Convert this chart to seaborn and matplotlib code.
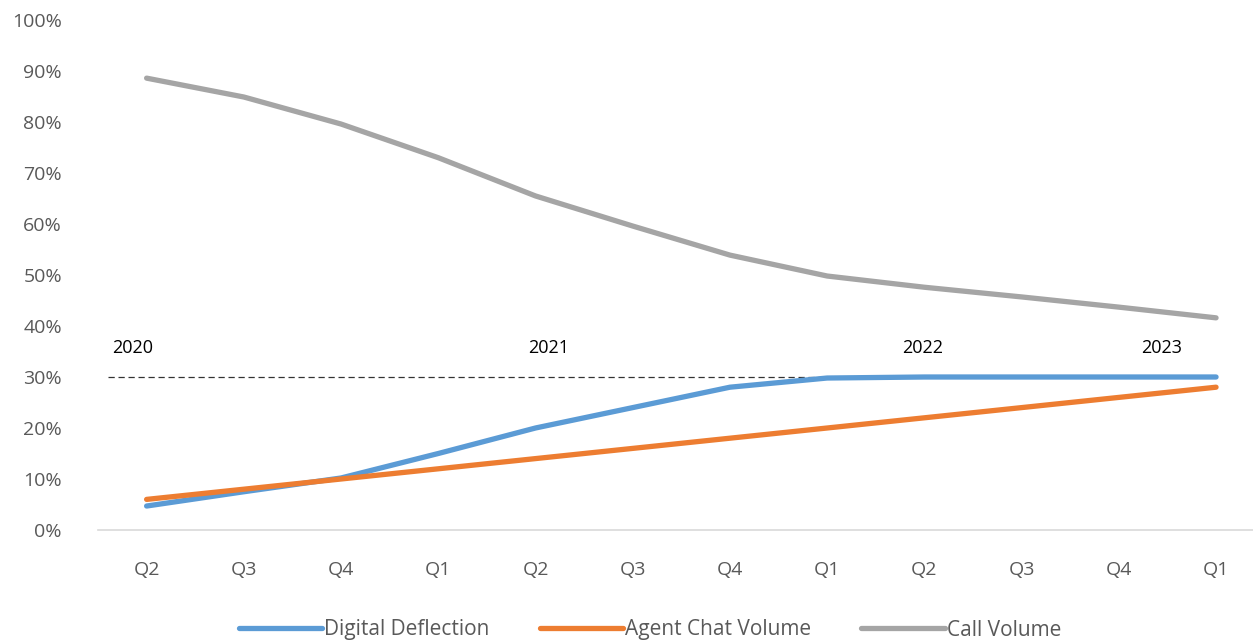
import matplotlib
matplotlib.use("Agg")
import matplotlib.pyplot as plt
import seaborn as sns
import pandas as pd
from matplotlib.ticker import PercentFormatter, FixedLocator
from matplotlib.lines import Line2D

quarters = ["Q2", "Q3", "Q4", "Q1", "Q2", "Q3", "Q4", "Q1", "Q2", "Q3", "Q4", "Q1"]
digital_deflection = [4.7, 7.5, 10.2, 15.0, 20.0, 24.0, 28.0, 29.8, 30.0, 30.0, 30.0, 30.0]
agent_chat_volume = [6.0, 8.0, 10.0, 12.0, 14.0, 16.0, 18.0, 20.0, 22.0, 24.0, 26.0, 28.0]
call_volume = [88.6, 84.9, 79.6, 73.0, 65.5, 59.6, 53.9, 49.8, 47.6, 45.7, 43.7, 41.6]
series_names = ["Digital Deflection", "Agent Chat Volume", "Call Volume"]
year_labels = ["2020", "2021", "2022", "2023"]
year_positions = [-0.14, 4.14, 7.98, 10.44]
target_level = 30.0

sns.set_theme(style="white")
plt.rcParams['font.family'] = ['Open Sans', 'DejaVu Sans']

rows = []
for name, vals in zip(series_names, [digital_deflection, agent_chat_volume, call_volume]):
    for i, v in enumerate(vals):
        rows.append({"idx": i, "value": v, "series": name})
df = pd.DataFrame(rows)

palette = {"Digital Deflection": "#5B9BD5", "Agent Chat Volume": "#ED7D31", "Call Volume": "#A5A5A5"}

fig = plt.figure(figsize=(12.53, 6.44), dpi=100)
ax = fig.add_axes([98/1253, 114/644, 1155/1253, 510/644])

sns.lineplot(data=df, x="idx", y="value", hue="series", palette=palette,
             linewidth=3.8, ax=ax, legend=False, solid_capstyle="round")

ax.plot([-0.4, 9.14], [target_level, target_level], color="#333333", lw=0.9,
        linestyle=(0, (5, 3)), zorder=1)

for lab, xp in zip(year_labels, year_positions):
    ax.text(xp, 35.7, lab, ha="center", va="center", fontsize=13, color="#000000")

ax.set_xlim(-0.5, 11.38)
ax.set_ylim(0, 100)
ax.yaxis.set_major_locator(FixedLocator(range(0, 101, 10)))
ax.yaxis.set_major_formatter(PercentFormatter(decimals=0))
ax.set_xticks(range(len(quarters)))
ax.set_xticklabels(quarters)
ax.tick_params(axis="both", colors="#595959", labelsize=14, length=0)
ax.tick_params(axis="x", pad=22)
ax.tick_params(axis="y", pad=26)
for s in ["top", "right", "left"]:
    ax.spines[s].set_visible(False)
ax.spines["bottom"].set_color("#D9D9D9")
ax.spines["bottom"].set_linewidth(1.2)
ax.set_xlabel("")
ax.set_ylabel("")

handles = [Line2D([0], [0], color=palette[n], lw=3.8, solid_capstyle="round") for n in series_names]
fig.legend(handles, series_names, loc="center", bbox_to_anchor=(650/1253, 1 - 630/644),
           ncol=3, frameon=False, fontsize=15, labelcolor="#595959",
           handlelength=4.0, handletextpad=0.1, columnspacing=2.4)

fig.savefig("out.png", dpi=100)
